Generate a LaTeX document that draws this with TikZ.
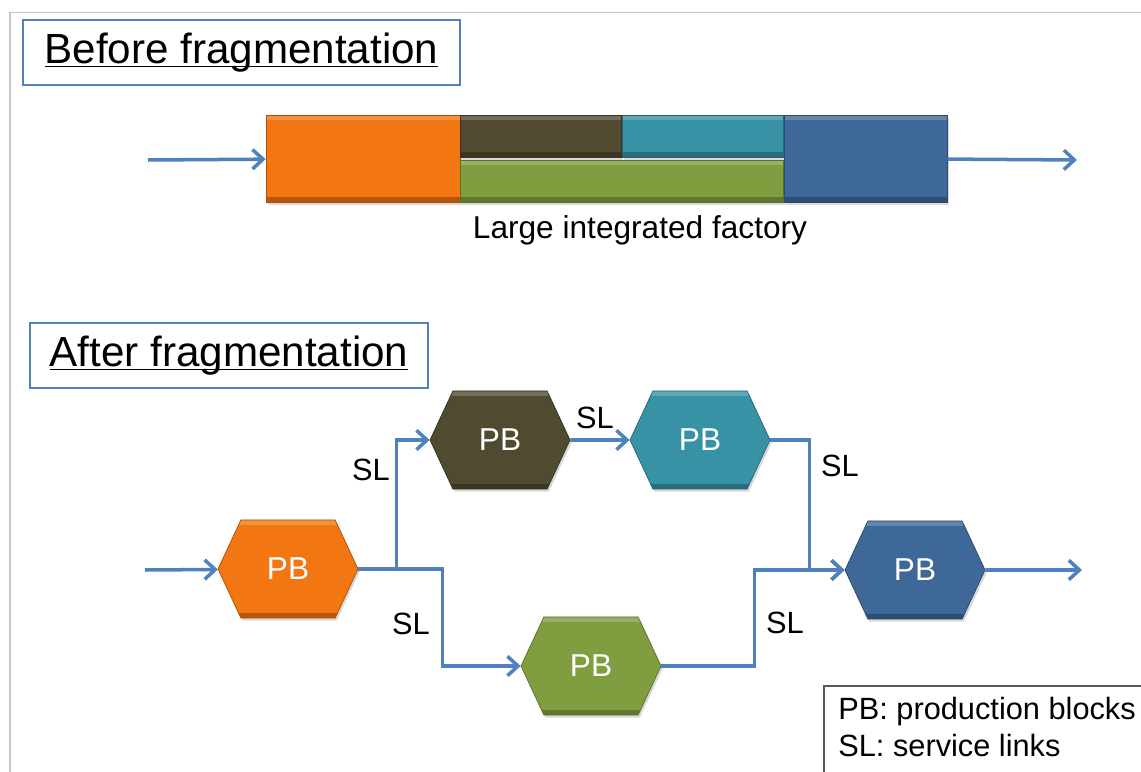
\documentclass[tikz,border=0pt]{standalone}
\usepackage{fontspec}
\setmainfont{Liberation Sans}
\usetikzlibrary{positioning,arrows.meta,shapes.symbols,shadows}
\definecolor{pborange}{RGB}{242,118,18}
\definecolor{pbolive}{RGB}{80,74,48}
\definecolor{pbteal}{RGB}{56,146,166}
\definecolor{pbgreen}{RGB}{128,158,64}
\definecolor{pbblue}{RGB}{62,104,152}
\definecolor{linkblue}{RGB}{79,129,189}
\newcommand{\ulinetext}[1]{\underline{\smash{#1}}\vphantom{#1}}

\begin{document}
\begin{tikzpicture}[x=0.2mm, y=-0.2mm, >={Straight Barb[length=6pt,width=11pt]},
  every node/.style={font=\fontsize{17.5}{21}\selectfont},
  bevel/.style={path picture={
      \fill[white, opacity=0.2] (path picture bounding box.north west) rectangle ([yshift=-3pt]path picture bounding box.north east);
      \fill[black, opacity=0.25] (path picture bounding box.south west) rectangle ([yshift=3pt]path picture bounding box.south east);}},
  blk/.style={draw=#1!70!black, fill=#1, bevel, inner sep=0pt,
      drop shadow={opacity=0.3, shadow xshift=1pt, shadow yshift=-1.5pt}},
  pb/.style={signal, signal to=east and west, signal pointer angle=130,
      draw=#1!70!black, fill=#1, bevel, text=white, inner sep=0pt,
      minimum width=2.8cm, minimum height=1.96cm, font=\fontsize{18}{21}\selectfont,
      drop shadow={opacity=0.3, shadow xshift=1pt, shadow yshift=-1.5pt}},
  link/.style={draw=linkblue, line width=2pt},
  title/.style={draw=linkblue, line width=1.3pt, minimum height=1.3cm, font=\fontsize{24}{28}\selectfont}
]
  \useasboundingbox (0,0) rectangle (1141,772);
  \draw[gray!45, line width=0.9pt] (10,772) -- (10,12.5) -- (1141,12.5);

  % before fragmentation
  \node[title, minimum width=8.74cm] (before) at (241.5,52.5) {\ulinetext{Before fragmentation}};
  \node[blk=pborange, minimum width=3.88cm, minimum height=1.74cm] (fo) at (363,158.5) {};
  \node[blk=pbolive, minimum width=3.22cm, minimum height=0.84cm] (fd) at (541,136) {};
  \node[blk=pbteal, minimum width=3.22cm, minimum height=0.84cm] (ft) at (703,136) {};
  \node[blk=pbgreen, minimum width=6.46cm, minimum height=0.84cm] (fg) at (622,181) {};
  \node[blk=pbblue, minimum width=3.26cm, minimum height=1.74cm] (fb) at (865.5,158.5) {};
  \node[font=\fontsize{18}{21}\selectfont] (factory) at (640,230) {Large integrated factory};
  \coordinate (fin) at (148,160);
  \coordinate (fout) at (1077,160);
  \draw[link, ->] (fin) -- (fo);
  \draw[link, ->] (fb) -- (fout);

  % after fragmentation
  \node[title, minimum width=7.96cm] (after) at (229,355.5) {\ulinetext{After fragmentation}};
  \node[pb=pborange] (pb1) at (288,569) {PB};
  \node[pb=pbolive] (pb2) at (500,440) {PB};
  \node[pb=pbteal] (pb3) at (700,440) {PB};
  \node[pb=pbgreen] (pb4) at (591,666) {PB};
  \node[pb=pbblue] (pb5) at (915,570) {PB};
  \coordinate (pin) at (145,570);
  \coordinate (pout) at (1082,570);

  \draw[link, ->] (pin) -- (pb1);
  \draw[link, ->] (pb1.east) -- ++(38,0) |- (pb2);
  \draw[link, ->] (pb1.east) -- ++(84,0) |- (pb4);
  \draw[link, ->] (pb2) -- (pb3);
  \draw[link, ->] (pb3.east) -- ++(39,0) |- (pb5);
  \draw[link, ->] (pb4.east) -- ++(93,0) |- (pb5);
  \draw[link, ->] (pb5) -- (pout);

  \node (sl1) at (371,470) {SL};
  \node (sl2) at (411,624) {SL};
  \node (sl3) at (595,418) {SL};
  \node (sl4) at (840,466) {SL};
  \node (sl5) at (785,623) {SL};

  % legend
  \node[anchor=north west, align=left, inner sep=0pt] (key) at (838,697) {PB: production blocks\\SL: service links};
  \draw[gray!70!black, line width=0.8pt] ([shift={(-14,-11)}]key.north west) rectangle ([shift={(30,40)}]key.south east);
\end{tikzpicture}
\end{document}
